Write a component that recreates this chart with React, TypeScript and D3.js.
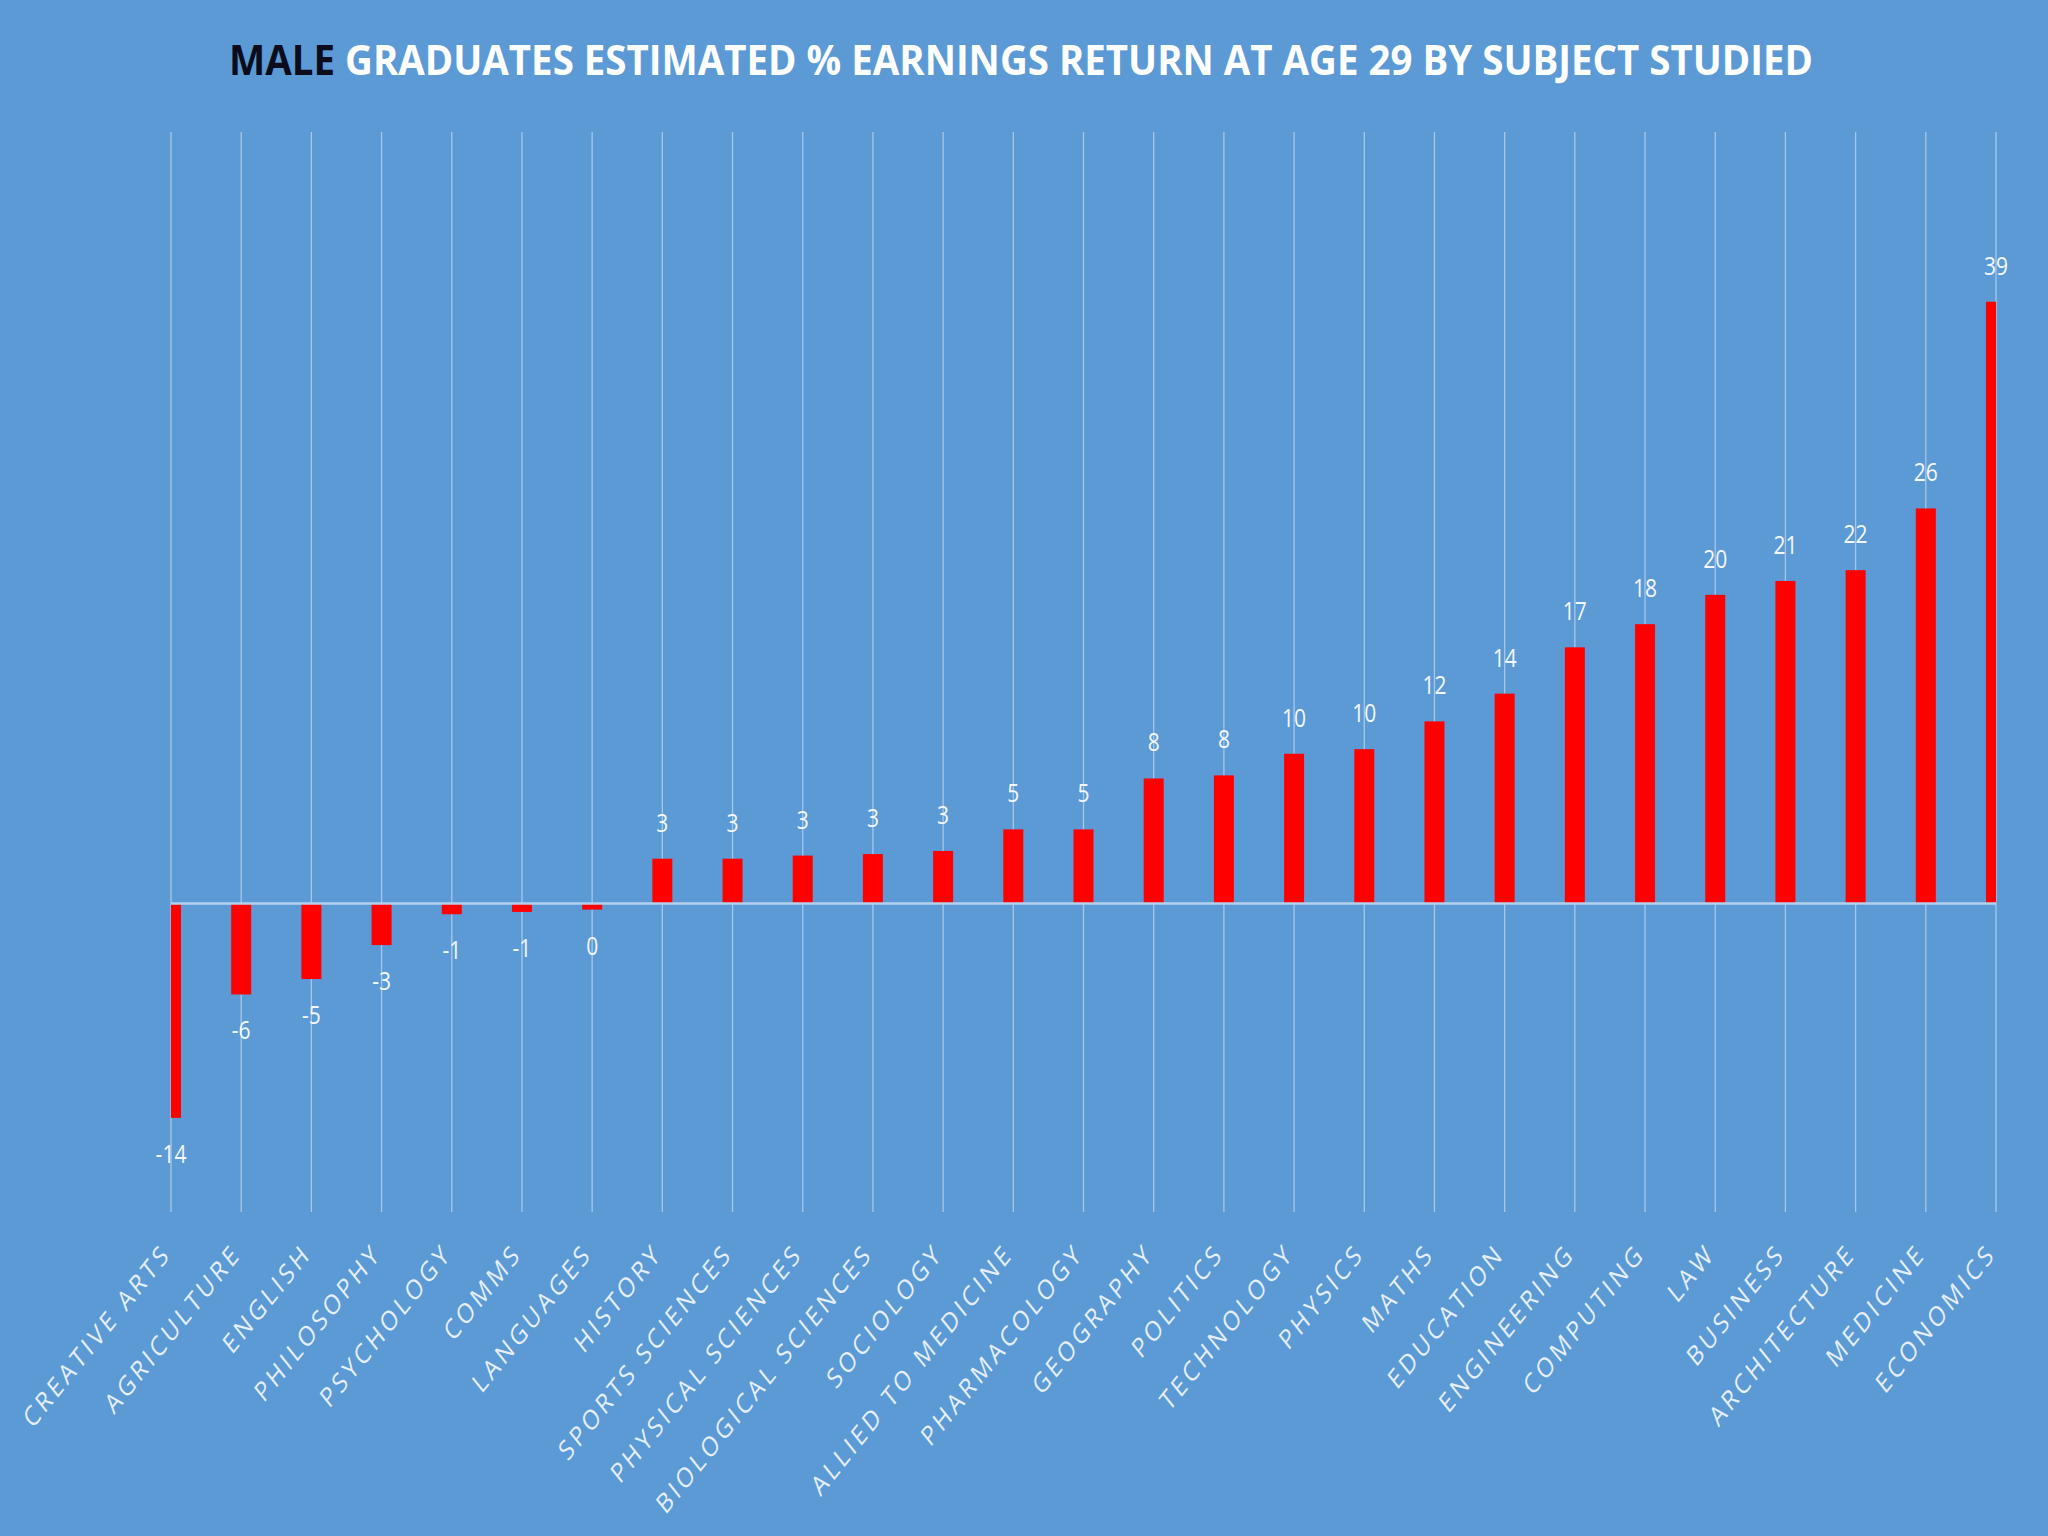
import React from 'react';
import * as d3 from 'd3';

const subjects = [
  'CREATIVE ARTS', 'AGRICULTURE', 'ENGLISH', 'PHILOSOPHY', 'PSYCHOLOGY', 'COMMS', 'LANGUAGES',
  'HISTORY', 'SPORTS SCIENCES', 'PHYSICAL SCIENCES', 'BIOLOGICAL SCIENCES', 'SOCIOLOGY',
  'ALLIED TO MEDICINE', 'PHARMACOLOGY', 'GEOGRAPHY', 'POLITICS', 'TECHNOLOGY', 'PHYSICS',
  'MATHS', 'EDUCATION', 'ENGINEERING', 'COMPUTING', 'LAW', 'BUSINESS', 'ARCHITECTURE',
  'MEDICINE', 'ECONOMICS',
];

// estimated % earnings return (bar heights)
const returns = [
  -13.9, -5.9, -4.9, -2.7, -0.7, -0.55, -0.4,
  2.9, 2.9, 3.1, 3.2, 3.4,
  4.8, 4.8, 8.1, 8.3, 9.7, 10.0,
  11.8, 13.6, 16.6, 18.1, 20.0, 20.9, 21.6,
  25.6, 39.0,
];

const yDomain = [-20, 50];

const W = 2048;
const H = 1536;
const STRETCH = 1.25; // the source picture is stretched vertically

const fmt = (v: number) => {
  const r = Math.round(v);
  return String(r === 0 ? 0 : r);
};

const App: React.FC = () => {
  const x = d3.scalePoint<string>().domain(subjects).range([171, 1996]);
  const y = d3.scaleLinear().domain(yDomain).range([1212, 132]);
  const barW = 20;
  const [x0, x1] = x.range();

  return (
    <svg
      width={W}
      height={H}
      style={{ position: 'absolute', left: 0, top: 0, display: 'block' }}
    >
      <defs>
        <clipPath id="plotClip">
          <rect x={x0} y={0} width={x1 - x0} height={H} />
        </clipPath>
      </defs>
      <rect x={0} y={0} width={W} height={H} fill="#5b9ad5" />

      {/* title */}
      <text
        transform={`translate(1021,75) scale(1,${STRETCH})`}
        textAnchor="middle"
        fontFamily="'Open Sans', sans-serif"
        fontWeight={700}
        fontSize={33}
        textLength={1584}
        lengthAdjust="spacingAndGlyphs"
      >
        <tspan fill="#0b0d1c">MALE</tspan>
        <tspan fill="#ffffff"> GRADUATES ESTIMATED % EARNINGS RETURN AT AGE 29 BY SUBJECT STUDIED</tspan>
      </text>

      {/* vertical gridlines */}
      {subjects.map((s) => (
        <line
          key={'g' + s}
          x1={x(s)}
          x2={x(s)}
          y1={y(yDomain[1])}
          y2={y(yDomain[0])}
          stroke="#a7c7ea"
          strokeWidth={1.3}
        />
      ))}

      {/* bars */}
      <g clipPath="url(#plotClip)">
        {subjects.map((s, i) => (
          <rect
            key={'b' + s}
            x={(x(s) as number) - barW / 2}
            y={y(Math.max(0, returns[i]))}
            width={barW}
            height={Math.abs(y(returns[i]) - y(0))}
            fill="#ff0000"
          />
        ))}
      </g>

      {/* zero line */}
      <line x1={x0} x2={x1} y1={y(0)} y2={y(0)} stroke="#b3d0ef" strokeWidth={2.5} />

      {/* value labels */}
      {subjects.map((s, i) => {
        const v = returns[i];
        const ly = v >= 0 ? y(v) - 27 : y(v) + 45;
        return (
          <text
            key={'v' + s}
            transform={`translate(${x(s)},${ly}) scale(1,${STRETCH})`}
            textAnchor="middle"
            fontFamily="'Open Sans', sans-serif"
            fontSize={21}
            fill="#f4f7fb"
          >
            {fmt(v)}
          </text>
        );
      })}

      {/* category labels */}
      {subjects.map((s) => (
        <text
          key={'c' + s}
          transform={`translate(${(x(s) as number) + 1},1255) scale(1,${STRETCH}) rotate(-45)`}
          textAnchor="end"
          fontFamily="'Open Sans', sans-serif"
          fontSize={22}
          letterSpacing={3.3}
          fill="#e6eff9"
        >
          {s}
        </text>
      ))}
    </svg>
  );
};

export default App;
